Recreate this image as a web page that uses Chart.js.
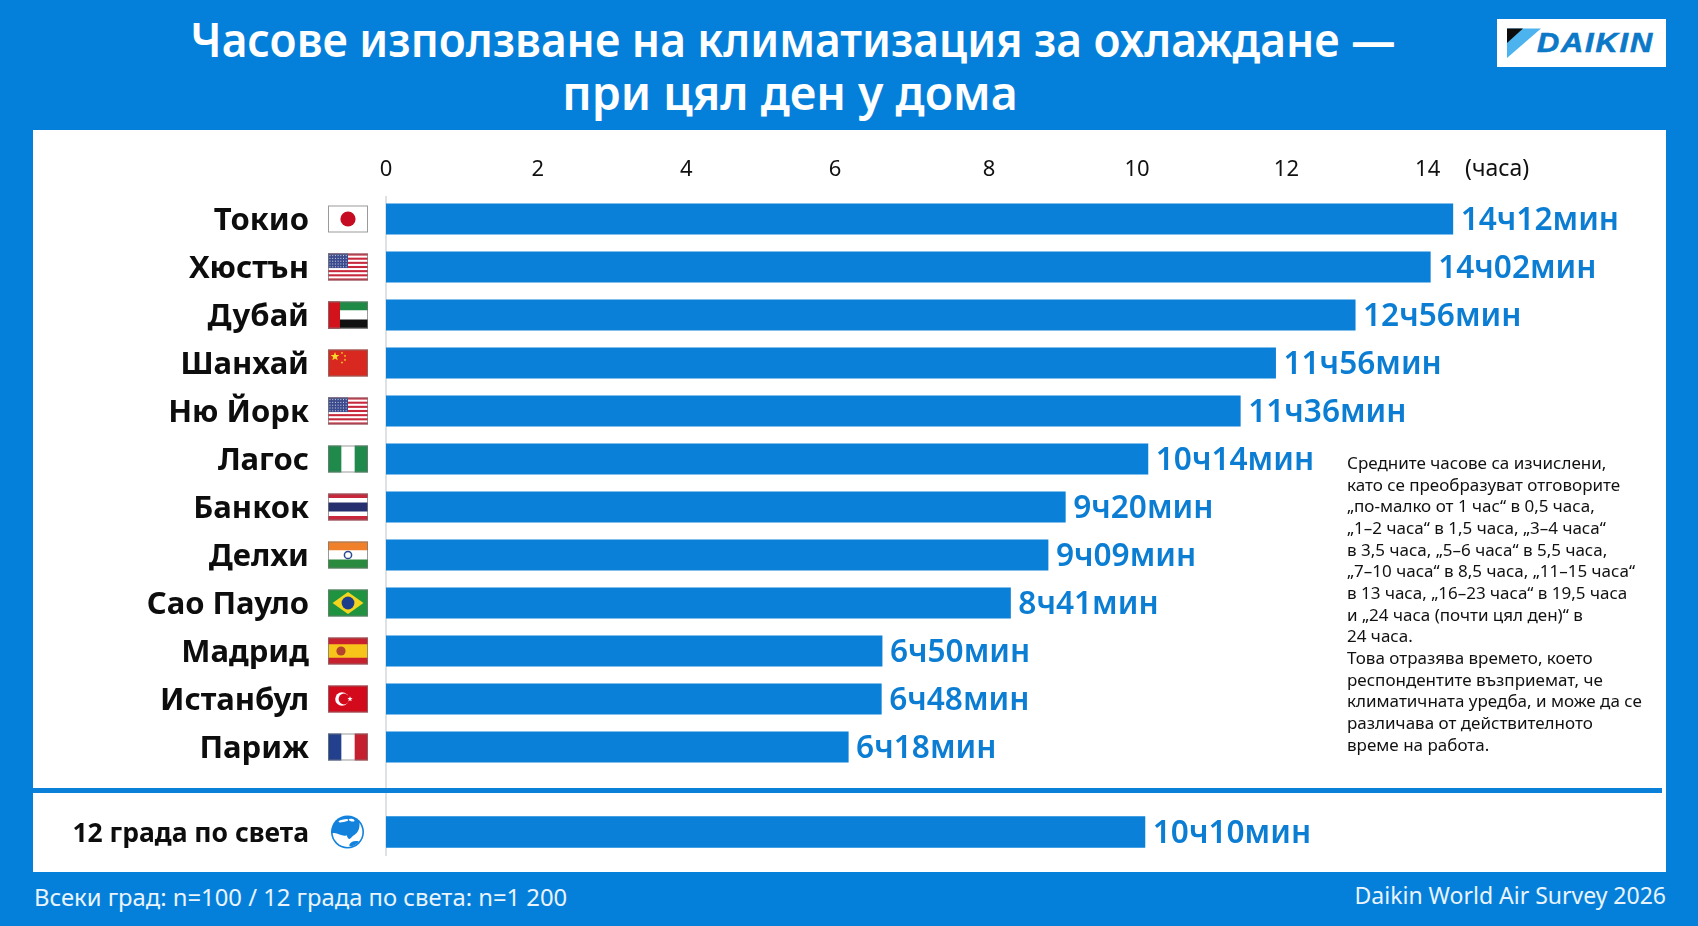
<!DOCTYPE html>
<html lang="bg">
<head>
<meta charset="utf-8">
<title>Часове използване на климатизация</title>
<script src="https://cdn.jsdelivr.net/npm/chart.js@4/dist/chart.umd.min.js"></script>
<style>
html,body{margin:0;padding:0;width:1698px;height:926px;overflow:hidden;background:#0580da;font-family:"Noto Sans",sans-serif}
div,canvas,svg{position:absolute}
#panel{left:33px;top:130px;width:1633px;height:742px;background:#fff}
#rule{left:33px;top:788px;width:1629px;height:5px;background:#0a80d8;z-index:3}
#axisline{left:385px;top:196px;width:2px;height:660px;background:#dfe2e5}
canvas{left:0;top:0;z-index:2}
.t{color:#fff;font-weight:600;font-size:47px;white-space:nowrap;left:0;width:1586px;text-align:center;line-height:56px}
#unit{left:1465px;top:152px;font-size:23px;line-height:30px;color:#111;white-space:nowrap;z-index:3}
#note{left:1347px;top:452px;font-size:17px;line-height:21.65px;color:#111;white-space:pre;z-index:3}
#fl{left:34px;top:880px;font-size:23.8px;line-height:34px;color:#e9f4fd;white-space:nowrap}
#fr{right:32px;top:878px;font-size:23px;line-height:34px;color:#e9f4fd;white-space:nowrap}
#logo{left:1497px;top:19px;width:169px;height:48px;background:#fff}
#logotext{left:40px;top:7px;font:italic 700 27px/34px "Liberation Sans",sans-serif;color:#0b78c8;letter-spacing:1.6px;white-space:nowrap;transform:scaleX(1.14);transform-origin:left center;-webkit-text-stroke:.6px #0b78c8}
</style>
</head>
<body>
<div class="t" style="top:11px;transform:scaleX(.942)">Часове използване на климатизация за охлаждане —</div>
<div class="t" style="top:64px;left:-3px;transform:scaleX(.988)">при цял ден у дома</div>
<div id="logo">
  <svg width="60" height="48" style="left:0;top:0">
    <polygon points="10,9.5 44,9.5 10,39" fill="#4db3ee"/>
    <polygon points="10,9.5 26,9.5 10,24" fill="#0c0c0c"/>
  </svg>
  <div id="logotext">DAIKIN</div>
</div>
<div id="panel"></div>
<div id="axisline"></div>
<div id="rule"></div>
<canvas id="main" width="1698" height="926"></canvas>
<canvas id="world" width="1698" height="926"></canvas>
<div id="unit">(часа)</div>
<div id="note">Средните часове са изчислени,
като се преобразуват отговорите
„по-малко от 1 час“ в 0,5 часа,
„1–2 часа“ в 1,5 часа, „3–4 часа“
в 3,5 часа, „5–6 часа“ в 5,5 часа,
„7–10 часа“ в 8,5 часа, „11–15 часа“
в 13 часа, „16–23 часа“ в 19,5 часа
и „24 часа (почти цял ден)“ в
24 часа.
Това отразява времето, което
респондентите възприемат, че
климатичната уредба, и може да се
различава от действителното
време на работа.</div>
<div id="fl">Всеки град: n=100 / 12 града по света: n=1 200</div>
<div id="fr">Daikin World Air Survey 2026</div>
<script>
const cities = ["Токио","Хюстън","Дубай","Шанхай","Ню Йорк","Лагос","Банкок","Делхи","Сао Пауло","Мадрид","Истанбул","Париж"];
const flags = ["jp","us","ae","cn","us","ng","th","in","br","es","tr","fr"];
// bar lengths as drawn, read against the top axis
const cityHours = [14.21,13.91,12.91,11.85,11.38,10.15,9.05,8.82,8.32,6.61,6.60,6.16];
// the values printed beside the bars
const cityLabels = ["14ч12мин","14ч02мин","12ч56мин","11ч56мин","11ч36мин","10ч14мин","9ч20мин","9ч09мин","8ч41мин","6ч50мин","6ч48мин","6ч18мин"];
const worldCategory = ["12 града по света"];
const worldHours = [10.11];
const worldLabels = ["10ч10мин"];
const tickLabels = ["0","2","4","6","8","10","12","14"];
const tickPositions = [0,2.02,4.0,5.98,8.03,10.0,11.99,13.87];

const BAR = "#0a80d8", TXT = "#0b7dd3", FONT = '"Noto Sans", sans-serif';

function rect(c,x,y,w,h,col){c.fillStyle=col;c.fillRect(x,y,w,h);}
function star(c,x,y,r,col){c.fillStyle=col;c.beginPath();for(let i=0;i<10;i++){const a=-Math.PI/2+i*Math.PI/5,q=i%2?r*0.42:r;c.lineTo(x+q*Math.cos(a),y+q*Math.sin(a));}c.closePath();c.fill();}
const drawFlag = {
  jp(c,x,y,w,h){rect(c,x,y,w,h,"#fff");c.fillStyle="#c60c22";c.beginPath();c.arc(x+w/2,y+h/2,7.6,0,7);c.fill();},
  us(c,x,y,w,h){rect(c,x,y,w,h,"#fff");const s=h/13;for(let i=0;i<13;i+=2)rect(c,x,y+i*s,w,s,"#c8283c");rect(c,x,y,w*0.5,s*7,"#3b4a8c");
    c.fillStyle="#cfd6ea";for(let r=0;r<5;r++)for(let k=0;k<7;k++)c.fillRect(x+1.5+k*2.7,y+1.6+r*2.8,1,1);},
  ae(c,x,y,w,h){rect(c,x,y,w,h/3,"#1f8a45");rect(c,x,y+h/3,w,h/3,"#fff");rect(c,x,y+2*h/3,w,h/3,"#111");rect(c,x,y,w*0.3,h,"#d3131c");},
  cn(c,x,y,w,h){rect(c,x,y,w,h,"#d8281f");star(c,x+7,y+7,4.6,"#f8d82a");[[14,3.5],[17,6.5],[17,10.5],[14,13]].forEach(p=>star(c,x+p[0],y+p[1],1.4,"#f8d82a"));},
  ng(c,x,y,w,h){rect(c,x,y,w,h,"#fff");rect(c,x,y,w/3,h,"#1f8a4c");rect(c,x+2*w/3,y,w/3,h,"#1f8a4c");},
  th(c,x,y,w,h){rect(c,x,y,w,h,"#fff");rect(c,x,y,w,h/6,"#c8283c");rect(c,x,y+5*h/6,w,h/6,"#c8283c");rect(c,x,y+h/3,w,h/3,"#27306e");},
  in(c,x,y,w,h){rect(c,x,y,w,h/3,"#f0812a");rect(c,x,y+h/3,w,h/3,"#fff");rect(c,x,y+2*h/3,w,h/3,"#2a8a3e");c.strokeStyle="#2a4a90";c.lineWidth=1.5;c.beginPath();c.arc(x+w/2,y+h/2,3.6,0,7);c.stroke();},
  br(c,x,y,w,h){rect(c,x,y,w,h,"#1f9340");c.fillStyle="#f4d51e";c.beginPath();c.moveTo(x+4.5,y+h/2);c.lineTo(x+w/2,y+2.5);c.lineTo(x+w-4.5,y+h/2);c.lineTo(x+w/2,y+h-2.5);c.closePath();c.fill();c.fillStyle="#1d3c8a";c.beginPath();c.arc(x+w/2,y+h/2,6.4,0,7);c.fill();},
  es(c,x,y,w,h){rect(c,x,y,w,h,"#c8202c");rect(c,x,y+h/4,w,h/2,"#f7c41a");c.fillStyle="#b4422c";c.beginPath();c.arc(x+13,y+h/2,4.6,0,7);c.fill();},
  tr(c,x,y,w,h){rect(c,x,y,w,h,"#d30a1c");c.fillStyle="#fff";c.beginPath();c.arc(x+14,y+h/2,6.8,0,7);c.fill();c.fillStyle="#d30a1c";c.beginPath();c.arc(x+16,y+h/2,5.4,0,7);c.fill();star(c,x+22,y+h/2,2.8,"#fff");},
  fr(c,x,y,w,h){rect(c,x,y,w,h,"#fff");rect(c,x,y,w/3,h,"#22408e");rect(c,x+2*w/3,y,w/3,h,"#c4202f");}
};

function drawGlobe(c,x,y,r){
  c.save();
  c.fillStyle="#1282dc";c.beginPath();c.arc(x,y,r,0,7);c.fill();
  c.beginPath();c.arc(x,y,r-1.6,0,7);c.clip();
  c.fillStyle="#fff";
  c.beginPath();c.moveTo(x-r,y+r*0.1);
  c.bezierCurveTo(x-r*0.6,y-r*0.05,x-r*0.35,y+r*0.35,x-r*0.05,y+r*0.2);
  c.bezierCurveTo(x+r*0.1,y+r*0.65,x+r*0.2,y+r*0.3,x+r*0.45,y+r*0.15);
  c.bezierCurveTo(x+r*0.7,y,x+r*0.75,y-r*0.3,x+r*0.72,y-r*0.62);
  c.lineTo(x+r,y-r*0.5);c.lineTo(x+r,y+r);c.lineTo(x-r,y+r);c.closePath();c.fill();
  c.beginPath();c.ellipse(x-r*0.25,y-r*0.68,r*0.3,r*0.08,-0.2,0,7);c.fill();
  c.beginPath();c.ellipse(x+r*0.25,y-r*0.72,r*0.18,r*0.08,0.2,0,7);c.fill();
  c.fillStyle="#1282dc";
  c.beginPath();c.ellipse(x+r*0.42,y+r*0.72,r*0.32,r*0.16,-0.3,0,7);c.fill();
  c.restore();
}

const barLabelPlugin = labels => ({
  id:"barLabels",
  afterDatasetsDraw(chart){
    const c=chart.ctx;c.save();c.font='600 31.6px '+FONT;c.fillStyle=TXT;c.textAlign="left";c.textBaseline="middle";
    chart.getDatasetMeta(0).data.forEach((b,i)=>c.fillText(labels[i],b.x+7.5,b.y+2));
    c.restore();
  }
});
const flagPlugin = {
  id:"flags",
  afterDraw(chart){
    const c=chart.ctx,ys=chart.scales.y,x=chart.scales.x.left-58,w=40,h=27;
    flags.forEach((f,i)=>{
      const y=ys.getPixelForValue(i)-h/2;
      c.save();drawFlag[f](c,x,y,w,h);
      c.strokeStyle="rgba(120,120,120,.75)";c.lineWidth=1;c.strokeRect(x+.5,y+.5,w-1,h-1);c.restore();
    });
  }
};
const globePlugin = {
  id:"globe",
  afterDraw(chart){drawGlobe(chart.ctx,chart.scales.x.left-38.5,chart.scales.y.getPixelForValue(0),16.5);}
};

function yAxis(fontSize){
  return {
    position:"left",
    grid:{display:false,drawTicks:false},border:{display:false},
    ticks:{color:"#0d0d0d",padding:77,labelOffset:2,font:{family:FONT,size:fontSize,weight:"700"},autoSkip:false},
    afterFit(s){s.width=386;s.paddingTop=0;s.paddingBottom=0;}
  };
}

new Chart(document.getElementById("main"),{
  type:"bar",
  data:{labels:cities,datasets:[{data:cityHours,backgroundColor:BAR,borderWidth:0,barPercentage:0.646,categoryPercentage:1}]},
  plugins:[barLabelPlugin(cityLabels),flagPlugin],
  options:{
    indexAxis:"y",responsive:false,animation:false,devicePixelRatio:1,
    layout:{padding:{left:0,top:0,right:35.3,bottom:155}},
    plugins:{legend:{display:false},tooltip:{enabled:false},title:{display:false}},
    scales:{
      x:{
        position:"top",min:0,max:17,
        grid:{display:false,drawTicks:false},border:{display:false},
        ticks:{color:"#111",padding:12,maxRotation:0,autoSkip:false,font:{family:FONT,size:22},callback:(v,i)=>tickLabels[i]},
        afterBuildTicks(s){s.ticks=tickPositions.map(v=>({value:v}));},
        afterFit(s){s.height=195;}
      },
      y:yAxis(31)
    }
  }
});

new Chart(document.getElementById("world"),{
  type:"bar",
  data:{labels:worldCategory,datasets:[{data:worldHours,backgroundColor:BAR,borderWidth:0,barPercentage:0.66,categoryPercentage:1}]},
  plugins:[barLabelPlugin(worldLabels),globePlugin],
  options:{
    indexAxis:"y",responsive:false,animation:false,devicePixelRatio:1,
    layout:{padding:{left:0,top:808,right:35.3,bottom:70}},
    plugins:{legend:{display:false},tooltip:{enabled:false},title:{display:false}},
    scales:{
      x:{position:"top",display:false,min:0,max:17},
      y:yAxis(26.5)
    }
  }
});
</script>
</body>
</html>
